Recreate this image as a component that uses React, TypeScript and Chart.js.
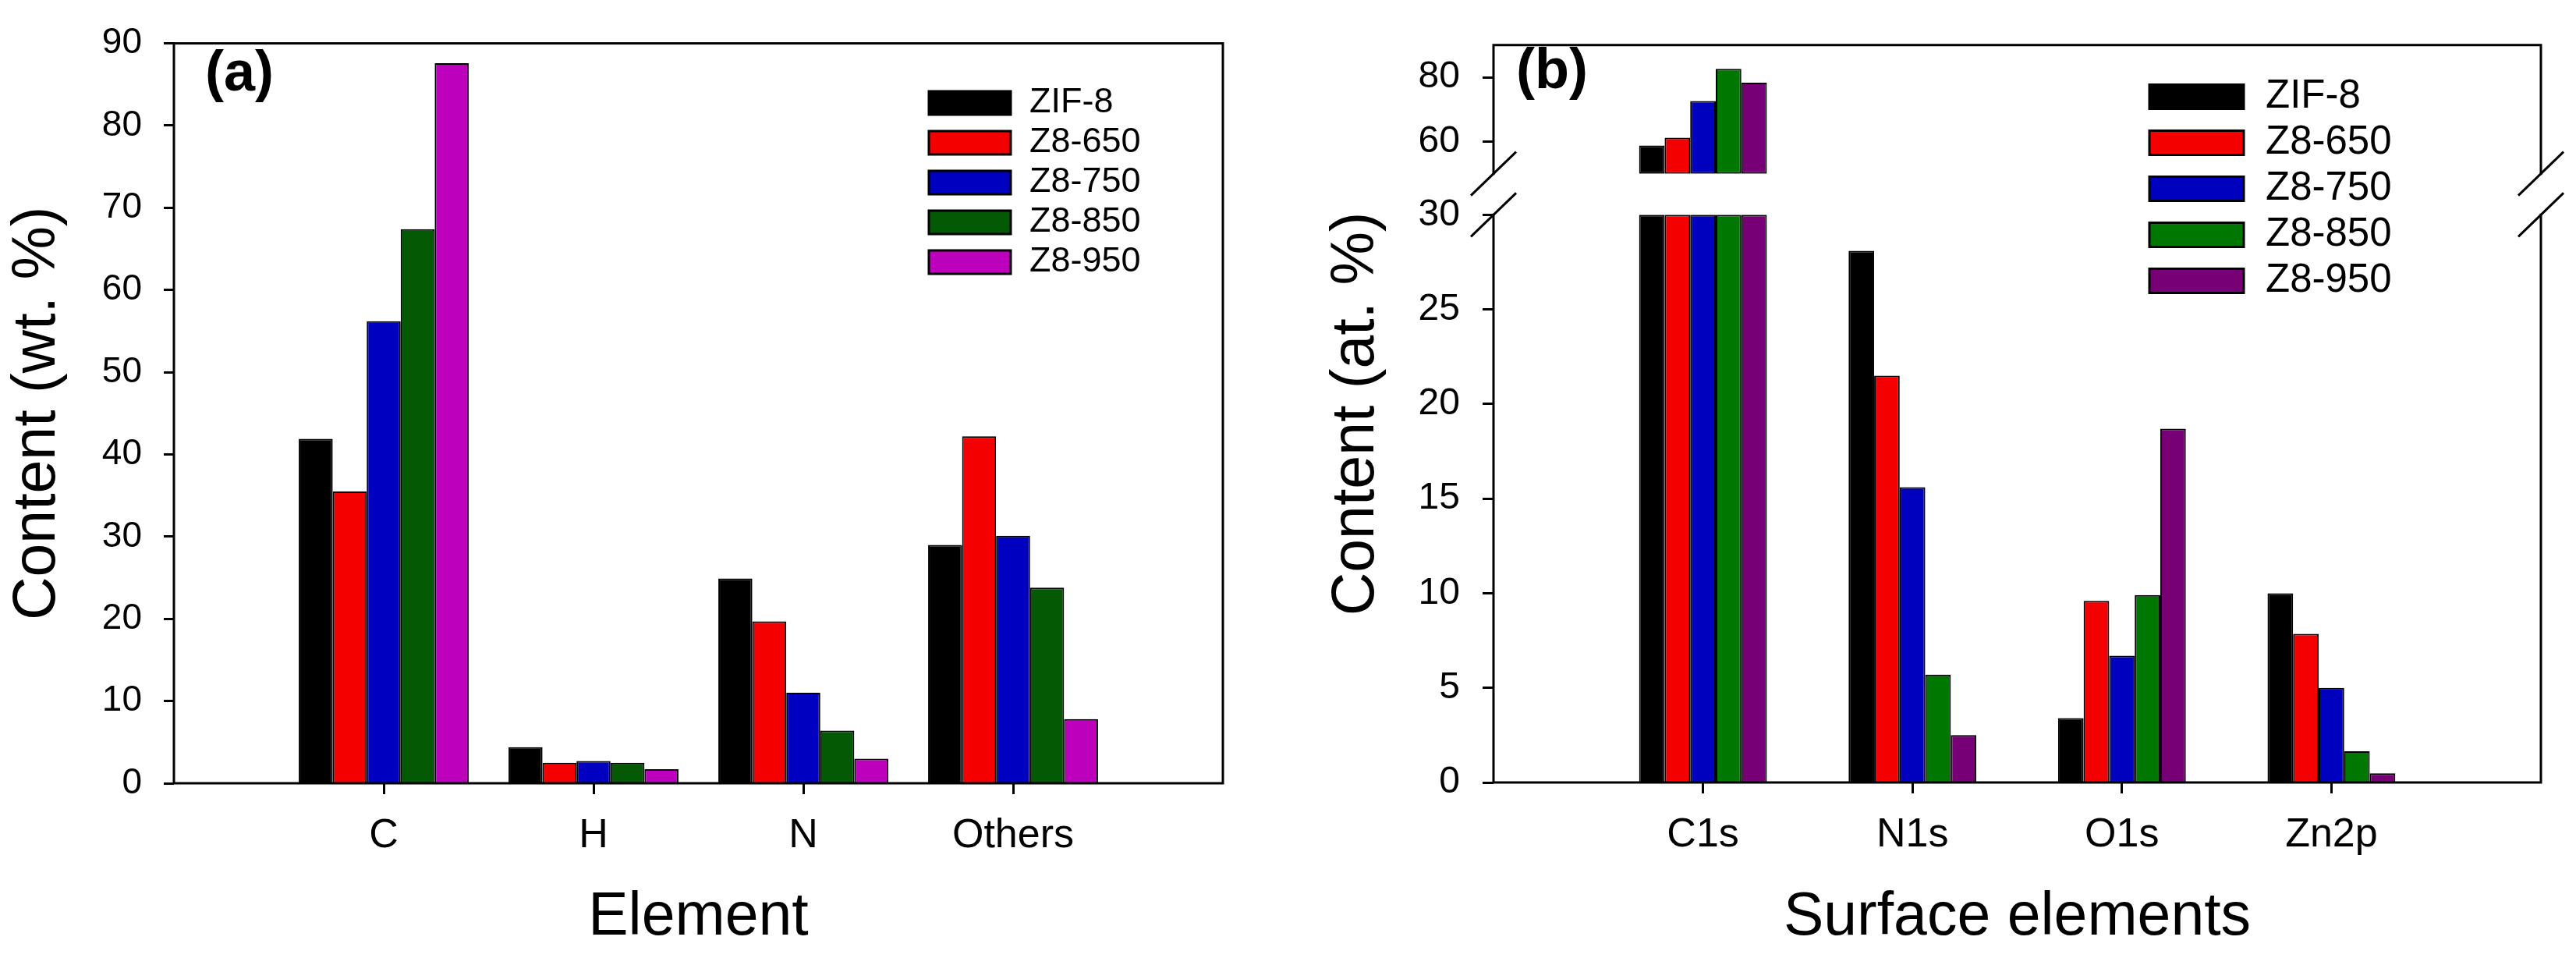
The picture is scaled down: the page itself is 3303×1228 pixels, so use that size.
import { useEffect, useRef } from "react";
import { Chart, registerables } from "chart.js";

Chart.register(...registerables);

const FONT = "'Liberation Sans', Arial, Helvetica, sans-serif";

const seriesNames = ["ZIF-8", "Z8-650", "Z8-750", "Z8-850", "Z8-950"];
const colorsA = ["#000000", "#f50000", "#0000c0", "#045a04", "#bc00bc"];
const colorsB = ["#000000", "#f50000", "#0000bf", "#007700", "#770077"];

// (a) elemental content, wt. %
const elementsA = ["C", "H", "N", "Others"];
const zif8A = [41.9, 4.4, 24.9, 29.0];
const z650A = [35.5, 2.5, 19.7, 42.2];
const z750A = [56.2, 2.7, 11.0, 30.1];
const z850A = [67.4, 2.5, 6.4, 23.8];
const z950A = [87.6, 1.7, 3.0, 7.8];
const yTicksA = [0, 10, 20, 30, 40, 50, 60, 70, 80, 90];

// (b) surface elements, at. %
const elementsB = ["C1s", "N1s", "O1s", "Zn2p"];
const zif8B = [58.8, 28.1, 3.4, 10.0];
const z650B = [61.2, 21.5, 9.6, 7.85];
const z750B = [72.6, 15.6, 6.7, 5.0];
const z850B = [82.6, 5.7, 9.9, 1.65];
const z950B = [78.3, 2.5, 18.7, 0.48];
const yTicksLowB = [0, 5, 10, 15, 20, 25, 30];
const yTicksHighB = [60, 80];
const lowMaxB = 30;
const highMinB = 50;
const highMaxB = 90;

// empty slot on each side so the groups sit one category in from the frame
const withEnds = (v: (number | null)[]) => [null, ...v, null];
const innerOnly = (n: number) => (c: any) =>
  c.index > 0 && c.index < n - 1 ? "#000" : "rgba(0,0,0,0)";

function drawLegend(ctx: any, datasets: any[], x: number, y0: number, gap: number, w: number, h: number, size: number, textX: number) {
  datasets.forEach((ds, i) => {
    const cy = y0 + i * gap;
    ctx.fillStyle = ds.backgroundColor;
    ctx.fillRect(x, cy - h / 2, w, h);
    ctx.lineWidth = 3;
    ctx.strokeStyle = "#000";
    ctx.strokeRect(x, cy - h / 2, w, h);
    ctx.fillStyle = "#000";
    ctx.font = `${size}px ${FONT}`;
    ctx.textAlign = "left";
    ctx.textBaseline = "middle";
    ctx.fillText(ds.label, textX, cy);
  });
}

const frameA = {
  id: "frameA",
  afterDraw(chart: any) {
    const { ctx, chartArea: a } = chart;
    ctx.save();
    ctx.strokeStyle = "#000";
    ctx.lineWidth = 3;
    ctx.strokeRect(a.left, a.top, a.right - a.left, a.bottom - a.top);
    drawLegend(ctx, chart.data.datasets, 1191, 132, 51, 105, 30, 45, 1320);
    ctx.fillStyle = "#000";
    ctx.font = `bold 72px ${FONT}`;
    ctx.textAlign = "left";
    ctx.textBaseline = "alphabetic";
    ctx.fillText("(a)", 263, 116);
    ctx.restore();
  },
};

const frameB = {
  id: "frameB",
  afterDraw(chart: any) {
    const { ctx, chartArea: a } = chart;
    const up = chart.scales.yUp;
    const low = chart.scales.yLow;
    ctx.save();
    ctx.strokeStyle = "#000";
    ctx.lineWidth = 3;
    ctx.lineCap = "square";
    ctx.beginPath();
    ctx.moveTo(a.left, a.top);
    ctx.lineTo(a.right, a.top);
    ctx.moveTo(a.left, a.bottom);
    ctx.lineTo(a.right, a.bottom);
    for (const x of [a.left, a.right]) {
      ctx.moveTo(x, up.top);
      ctx.lineTo(x, up.bottom);
      ctx.moveTo(x, low.top);
      ctx.lineTo(x, low.bottom);
    }
    ctx.stroke();
    ctx.lineCap = "butt";
    ctx.beginPath();
    for (const x of [a.left, a.right]) {
      for (const y of [up.bottom, low.top]) {
        ctx.moveTo(x - 29, y + 28);
        ctx.lineTo(x + 29, y - 28);
      }
    }
    ctx.stroke();

    drawLegend(ctx, chart.data.datasets.slice(0, 5), 1106, 124, 59, 121, 31, 51, 1255);

    ctx.fillStyle = "#000";
    ctx.font = `bold 72px ${FONT}`;
    ctx.textAlign = "left";
    ctx.textBaseline = "alphabetic";
    ctx.fillText("(b)", 294, 113);

    ctx.translate(90, (a.top + a.bottom) / 2);
    ctx.rotate(-Math.PI / 2);
    ctx.font = `77px ${FONT}`;
    ctx.textAlign = "center";
    ctx.textBaseline = "middle";
    ctx.fillText("Content (at. %)", 0, 0);
    ctx.restore();
  },
};

const tickFont = (size: number) => ({ family: FONT, size });
const titleFont = { family: FONT, size: 77, lineHeight: 1.2 };

function PanelA() {
  const ref = useRef<HTMLCanvasElement>(null);

  useEffect(() => {
    if (!ref.current) return;
    const labels = ["", ...elementsA, ""];
    const values = [zif8A, z650A, z750A, z850A, z950A];
    const chart = new Chart(ref.current, {
      type: "bar",
      data: {
        labels,
        datasets: seriesNames.map((name, i) => ({
          label: name,
          data: withEnds(values[i]),
          backgroundColor: colorsA[i],
          borderColor: "#000",
          borderWidth: 2,
          barPercentage: 1,
          categoryPercentage: 0.81,
        })),
      },
      options: {
        responsive: false,
        animation: false,
        devicePixelRatio: 1,
        layout: { padding: { top: 38, right: 82, bottom: 0, left: 0 } },
        plugins: { legend: { display: false }, tooltip: { enabled: false } },
        scales: {
          x: {
            offset: false,
            grid: {
              offset: false,
              drawOnChartArea: false,
              tickLength: 14,
              tickWidth: 3,
              tickColor: innerOnly(labels.length),
            },
            border: { display: false },
            ticks: { color: "#000", font: tickFont(52), padding: 22, maxRotation: 0, autoSkip: false },
            title: { display: true, text: "Element", color: "#000", font: titleFont, padding: { top: 0, bottom: 5 } },
            afterFit: (s: any) => {
              s.height = 224;
            },
          },
          y: {
            min: 0,
            max: 90,
            afterBuildTicks: (s: any) => {
              s.ticks = yTicksA.map((v) => ({ value: v }));
            },
            grid: { drawOnChartArea: false, tickLength: 13, tickWidth: 3, tickColor: "#000" },
            border: { display: false },
            ticks: { color: "#000", font: tickFont(46), padding: 28 },
            title: { display: true, text: "Content (wt. %)", color: "#000", font: titleFont, padding: { top: 3, bottom: 0 } },
            afterFit: (s: any) => {
              s.width = 223;
            },
          },
        },
      },
      plugins: [frameA],
    } as any);
    return () => chart.destroy();
  }, []);

  return (
    <canvas
      ref={ref}
      width={1650}
      height={1228}
      style={{ position: "absolute", left: 0, top: 0, width: 1650, height: 1228 }}
    />
  );
}

function PanelB() {
  const ref = useRef<HTMLCanvasElement>(null);

  useEffect(() => {
    if (!ref.current) return;
    const labels = ["", ...elementsB, ""];
    const values = [zif8B, z650B, z750B, z850B, z950B];
    const common = (i: number) => ({
      label: seriesNames[i],
      backgroundColor: colorsB[i],
      borderColor: "#000",
      borderWidth: 2,
      barPercentage: 1,
      categoryPercentage: 0.61,
      stack: `s${i}`,
    });
    const lower = values.map((v, i) => ({
      ...common(i),
      yAxisID: "yLow",
      data: withEnds(v.map((x) => Math.min(x, lowMaxB))),
    }));
    const upper = values.map((v, i) => ({
      ...common(i),
      yAxisID: "yUp",
      base: highMinB,
      borderSkipped: false,
      data: withEnds(v.map((x) => (x > lowMaxB ? x : null))),
    }));
    const yCommon = {
      position: "left",
      stack: "broken",
      stacked: false,
      grid: { drawOnChartArea: false, tickLength: 14, tickWidth: 3, tickColor: "#000" },
      border: { display: false },
      ticks: { color: "#000", font: tickFont(48), padding: 29 },
      afterFit: (s: any) => {
        s.width = 265;
      },
    };
    const chart = new Chart(ref.current, {
      type: "bar",
      data: { labels, datasets: [...lower, ...upper] },
      options: {
        responsive: false,
        animation: false,
        devicePixelRatio: 1,
        layout: { padding: { top: 34, right: 45, bottom: 0, left: 0 } },
        plugins: { legend: { display: false }, tooltip: { enabled: false } },
        scales: {
          x: {
            offset: false,
            grid: {
              offset: false,
              drawOnChartArea: false,
              tickLength: 14,
              tickWidth: 3,
              tickColor: innerOnly(labels.length),
            },
            border: { display: false },
            ticks: { color: "#000", font: tickFont(52), padding: 22, maxRotation: 0, autoSkip: false },
            title: { display: true, text: "Surface elements", color: "#000", font: titleFont, padding: { top: 0, bottom: 5 } },
            afterFit: (s: any) => {
              s.height = 225;
            },
          },
          yUp: {
            ...yCommon,
            type: "linear",
            weight: 3,
            stackWeight: 169,
            min: highMinB,
            max: highMaxB,
            afterBuildTicks: (s: any) => {
              s.ticks = yTicksHighB.map((v) => ({ value: v }));
            },
          },
          yGap: {
            type: "linear",
            position: "left",
            stack: "broken",
            weight: 2,
            stackWeight: 54,
            grid: { display: false },
            border: { display: false },
            ticks: { display: false },
            afterFit: (s: any) => {
              s.width = 265;
            },
          },
          yLow: {
            ...yCommon,
            type: "linear",
            weight: 1,
            stackWeight: 746,
            min: 0,
            max: lowMaxB,
            afterBuildTicks: (s: any) => {
              s.ticks = yTicksLowB.map((v) => ({ value: v }));
            },
          },
        },
      },
      plugins: [frameB],
    } as any);
    return () => chart.destroy();
  }, []);

  return (
    <canvas
      ref={ref}
      width={1653}
      height={1228}
      style={{ position: "absolute", left: 1650, top: 0, width: 1653, height: 1228 }}
    />
  );
}

export default function App() {
  return (
    <div style={{ position: "absolute", left: 0, top: 0, width: 3303, height: 1228, background: "#fff" }}>
      <PanelA />
      <PanelB />
    </div>
  );
}
